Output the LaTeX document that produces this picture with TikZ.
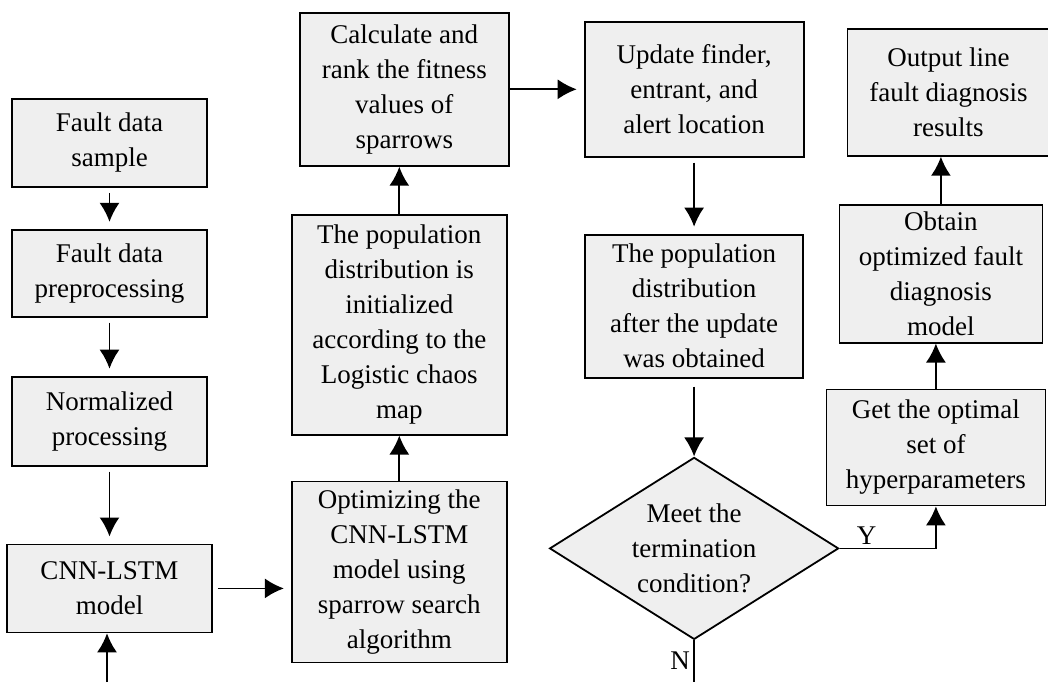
\documentclass[tikz,border=0pt]{standalone}
\usepackage{fontspec}
\setmainfont{Liberation Serif}
\definecolor{boxgray}{HTML}{EFEFEF}
\usetikzlibrary{arrows.meta, positioning, shapes.geometric}

\begin{document}
\begin{tikzpicture}[x=1pt, y=-1pt, line width=1.8pt,
  procbox/.style={rectangle, draw=black, fill=boxgray, align=center, inner sep=0pt, font=\fontsize{27}{35}\selectfont},
  decbox/.style={diamond, draw=black, fill=boxgray, align=center, inner sep=0pt, shape aspect=1.59, font=\fontsize{27}{35}\selectfont},
  flow/.style={-{Latex[length=19pt, width=20pt]}},
  gap/.style={shorten <=5pt, shorten >=7pt}]
\useasboundingbox (0,0) rectangle (1048,682);
\node[procbox, minimum width=195pt, minimum height=88pt] (sample) at (109.5,143) {Fault data\\sample};
\node[procbox, minimum width=195pt, minimum height=87pt, below = 41pt of sample] (prep) {Fault data\\preprocessing};
\node[procbox, minimum width=195pt, minimum height=89pt, below = 58pt of prep] (norm) {Normalized\\processing};
\node[procbox, minimum width=205pt, minimum height=88pt, below = 77pt of norm] (cnn) {CNN-LSTM\\model};
\node[procbox, minimum width=215pt, minimum height=181pt, right = 78pt of cnn, yshift = 16.5pt] (optim) {Optimizing the\\CNN-LSTM\\model using\\sparrow search\\algorithm};
\node[procbox, minimum width=215pt, minimum height=220pt, above = 45pt of optim] (init) {The population\\distribution is\\initialized\\according to the\\Logistic chaos\\map};
\node[procbox, minimum width=209pt, minimum height=153pt, above = 47pt of init, xshift = 5pt] (calc) {Calculate and\\rank the fitness\\values of\\sparrows};
\node[procbox, minimum width=219pt, minimum height=135pt, right = 74pt of calc] (update) {Update finder,\\entrant, and\\alert location};
\node[procbox, minimum width=218pt, minimum height=143pt, below = 76pt of update] (after) {The population\\distribution\\after the update\\was obtained};
\node[decbox, minimum width=289pt, minimum height=182pt, below = 78pt of after] (cond) {Meet the\\termination\\condition?};
\node[procbox, minimum width=202pt, minimum height=127pt, right = 42pt of update, yshift = -3pt] (output) {Output line\\fault diagnosis\\results};
\node[procbox, minimum width=203pt, minimum height=138pt, below = 47pt of output, xshift = -7.5pt] (obtain) {Obtain\\optimized fault\\diagnosis\\model};
\node[procbox, minimum width=219pt, minimum height=116pt, below = 45pt of obtain, xshift = -5pt] (optimal) {Get the optimal\\set of\\hyperparameters};
\coordinate (nend) at (cond.south |- 0,682);
\coordinate (cnnin) at (107,682);
\draw[flow, gap] (sample) -- (prep);
\draw[flow, gap] (prep) -- (norm);
\draw[flow, gap] (norm) -- (cnn);
\draw[flow] (cnnin) -- (cnnin |- cnn.south);
\draw[flow, gap] (cnn.east) -- (cnn.east -| optim.west);
\draw[flow] (optim) -- (init);
\draw[flow] (init.north) -- (init.north |- calc.south);
\draw[flow, shorten >= 7pt] (calc.east) -- (calc.east -| update.west);
\draw[flow, gap] (update) -- (after);
\draw[flow, shorten <= 8pt] (after) -- (cond);
\draw[flow] (cond.east) -| node[above, pos = 0.14, font = \fontsize{27}{35}\selectfont] {Y} (optimal.south);
\draw (cond.south) -- node[left, font = \fontsize{27}{35}\selectfont] {N} (nend);
\draw[flow] (optimal.north) -- (optimal.north |- obtain.south);
\draw[flow] (obtain.north) -- (obtain.north |- output.south);
\end{tikzpicture}
\end{document}
